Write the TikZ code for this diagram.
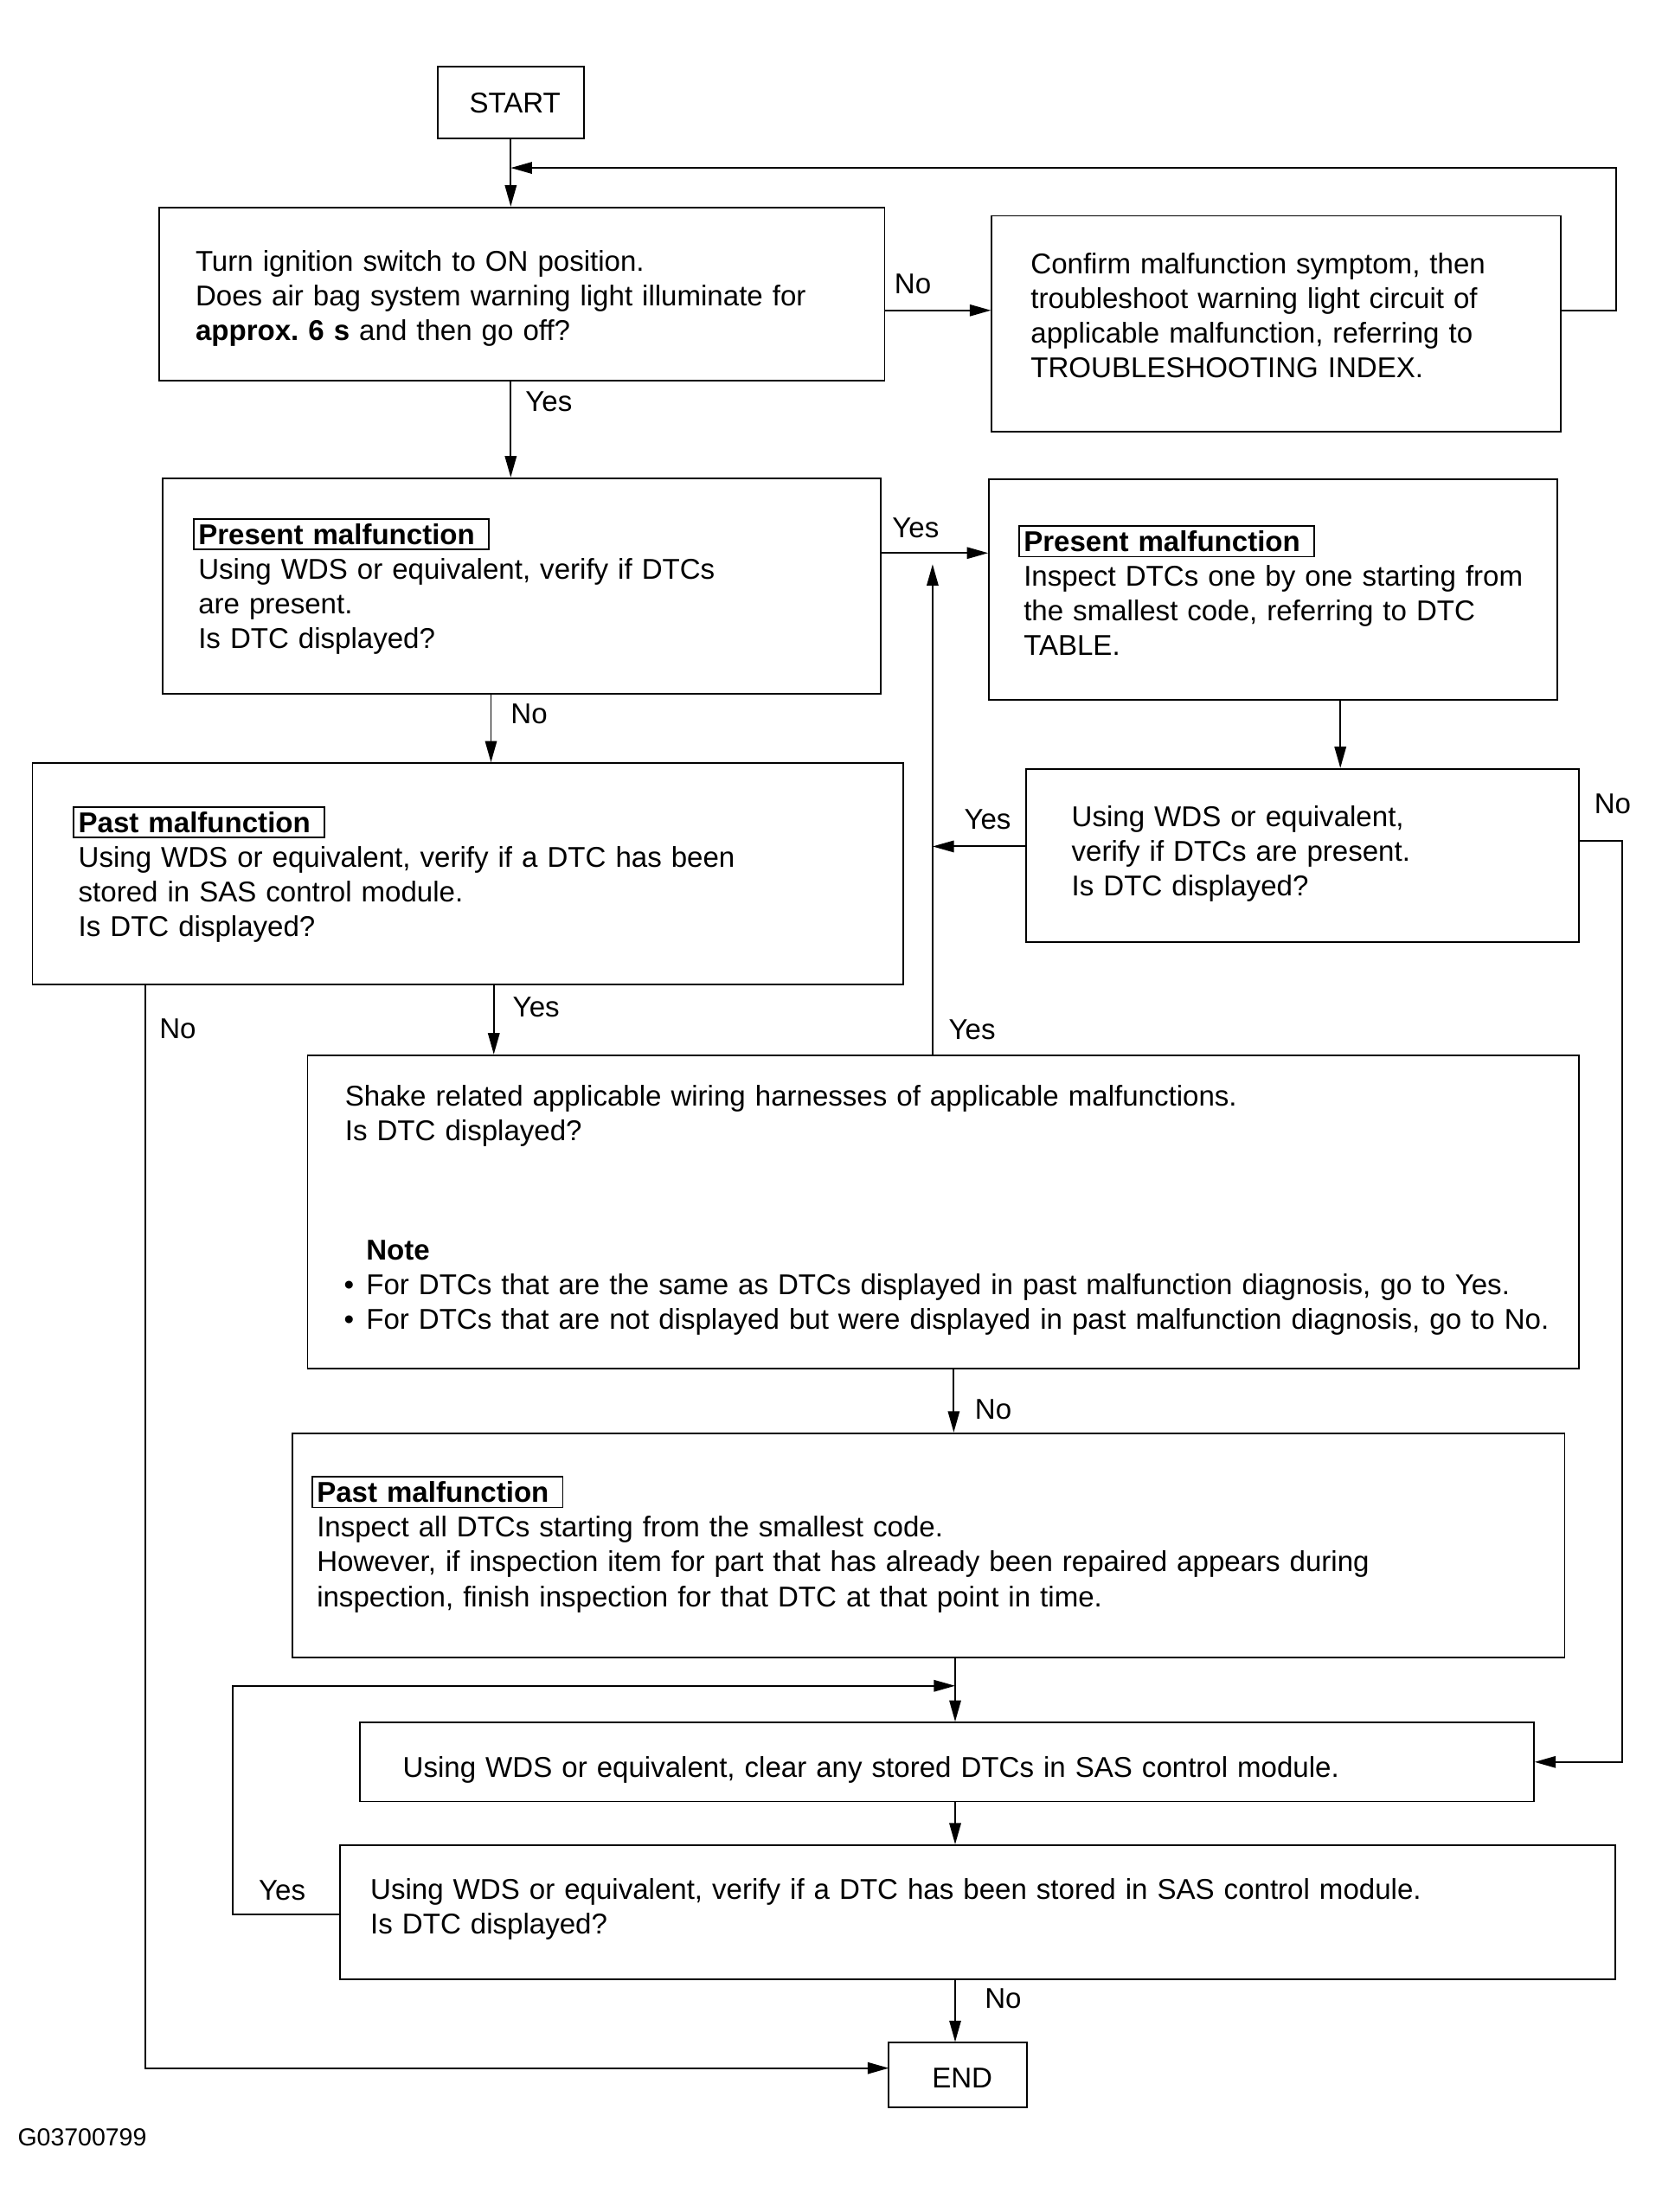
\documentclass[tikz,border=0pt]{standalone}
\usepackage{fontspec}
\setmainfont{Liberation Sans}
\usetikzlibrary{arrows.meta,fit}
\setlength{\fboxsep}{1.3pt}
\setlength{\fboxrule}{0.5pt}
\frenchspacing
\newcommand{\tagbox}[1]{\kern-1.8pt\fbox{\textbf{#1}\hspace{3pt}}}
\newcommand{\dotitem}{\leavevmode\llap{\textbullet\hspace{4pt}}}
\begin{document}
\begin{tikzpicture}[x=0.0163cm,y=-0.0163cm,line width=0.55pt,
  box/.style={draw,rectangle,inner sep=0pt},
  txt/.style={anchor=base west,inner sep=0pt,text width=16cm,align=left,font=\fontsize{9.4}{11.4}\selectfont},
  lbl/.style={inner sep=0pt,font=\fontsize{9.4}{11.4}\selectfont},
  arr/.style={-{Triangle[length=7pt,width=3.8pt]}}]
\useasboundingbox[fill=white] (0,0) rectangle (1178,1568);
% boxes
\node[box,fit={(310,47) (414,98)}] (s) {};
\node[box,fit={(113,147) (627,270)}] (q1) {};
\node[box,fit={(703,153) (1106,306)}] (c1) {};
\node[box,fit={(115,339) (624,492)}] (p1) {};
\node[box,fit={(701,340) (1104,496)}] (p2) {};
\node[box,fit={(727,545) (1119,668)}] (v1) {};
\node[box,fit={(23,541) (640,698)}] (h1) {};
\node[box,fit={(218,748) (1119,970)}] (k) {};
\node[box,fit={(207,1016) (1109,1175)}] (h2) {};
\node[box,fit={(255,1221) (1087,1277)}] (cl) {};
\node[box,fit={(241,1308) (1145,1403)}] (v2) {};
\node[box,fit={(630,1448) (728,1494)}] (e) {};
% texts
\node[lbl] (st) at (365,73) {START};
\node[lbl] (et) at (682,1473) {END};
\node[txt] (q1t) at (138,192) {Turn ignition switch to ON position.\\Does air bag system warning light illuminate for\\\textbf{approx. 6 s} and then go off?};
\node[txt] (c1t) at (730,194) {Confirm malfunction symptom, then\\troubleshoot warning light circuit of\\applicable malfunction, referring to\\TROUBLESHOOTING INDEX.};
\node[txt] (p1t) at (140,386) {\tagbox{Present malfunction}\\Using WDS or equivalent, verify if DTCs\\are present.\\Is DTC displayed?};
\node[txt] (p2t) at (725,391) {\tagbox{Present malfunction}\\Inspect DTCs one by one starting from\\the smallest code, referring to DTC\\TABLE.};
\node[txt] (v1t) at (759,586) {Using WDS or equivalent,\\verify if DTCs are present.\\Is DTC displayed?};
\node[txt] (h1t) at (55,590) {\tagbox{Past malfunction}\\Using WDS or equivalent, verify if a DTC has been\\stored in SAS control module.\\Is DTC displayed?};
\node[txt] (kt) at (244,784) {Shake related applicable wiring harnesses of applicable malfunctions.\\Is DTC displayed?};
\node[txt] (nt) at (259,893) {\textbf{Note}\\\dotitem For DTCs that are the same as DTCs displayed in past malfunction diagnosis, go to Yes.\\\dotitem For DTCs that are not displayed but were displayed in past malfunction diagnosis, go to No.};
\node[txt] (h2t) at (224,1065) {\tagbox{Past malfunction}\\Inspect all DTCs starting from the smallest code.\\However, if inspection item for part that has already been repaired appears during\\inspection, finish inspection for that DTC at that point in time.};
\node[txt] (clt) at (285,1260) {Using WDS or equivalent, clear any stored DTCs in SAS control module.};
\node[txt] (v2t) at (262,1346) {Using WDS or equivalent, verify if a DTC has been stored in SAS control module.\\Is DTC displayed?};
\node[txt,font=\fontsize{8.1}{10}\selectfont] (id) at (12,1521) {G03700799};
% connector points
\coordinate (j1) at (362,119);
\coordinate (n1) at (627,220);
\coordinate (n2) at (624,392);
\coordinate (n3) at (950,496);
\coordinate (n4) at (727,600);
\coordinate (n5) at (1119,596);
\coordinate (n6) at (348,492);
\coordinate (n7) at (350,698);
\coordinate (n8) at (103,698);
\coordinate (n9) at (676,970);
\coordinate (u) at (661,400);
\coordinate (m1) at (677,1175);
\coordinate (m2) at (677,1195);
\coordinate (m3) at (241,1357);
\coordinate (m4) at (630,1466);
% connectors
\draw[arr] (s.south) -- (s.south |- q1.north);
\draw[arr] (c1.east |- n1) -- ++(39,0) |- (j1);
\draw[arr] (n1) -- (n1 -| c1.west);
\draw[arr] (s.south |- q1.south) -- (s.south |- p1.north);
\draw[arr] (n2) -- (n2 -| p2.west);
\draw[arr] (n3) -- (n3 |- v1.north);
\draw[arr] (n4) -- (n4 -| u);
\draw[arr] (n5) -- ++(31,0) |- (cl.east);
\draw[arr] (n6) -- (n6 |- h1.north);
\draw[arr] (n7) -- (n7 |- k.north);
\draw[arr] (n8) |- (m4);
\draw[arr] (k.north -| u) -- (u);
\draw[arr] (n9) -- (n9 |- h2.north);
\draw[arr] (m1) -- (m1 |- cl.north);
\draw[arr] (m3) -- ++(-76,0) |- (m2);
\draw[arr] (m1 |- cl.south) -- (m1 |- v2.north);
\draw[arr] (m1 |- v2.south) -- (m1 |- e.north);
% labels
\node[lbl] (l1) at (647,201) {No};
\node[lbl] (l2) at (389,285) {Yes};
\node[lbl] (l3) at (649,374) {Yes};
\node[lbl] (l4) at (375,506) {No};
\node[lbl] (l5) at (700,581) {Yes};
\node[lbl] (l6) at (1143,570) {No};
\node[lbl] (l7) at (380,714) {Yes};
\node[lbl] (l8) at (126,729) {No};
\node[lbl] (l9) at (689,730) {Yes};
\node[lbl] (l10) at (704,999) {No};
\node[lbl] (l11) at (200,1340) {Yes};
\node[lbl] (l12) at (711,1417) {No};
\end{tikzpicture}
\end{document}
